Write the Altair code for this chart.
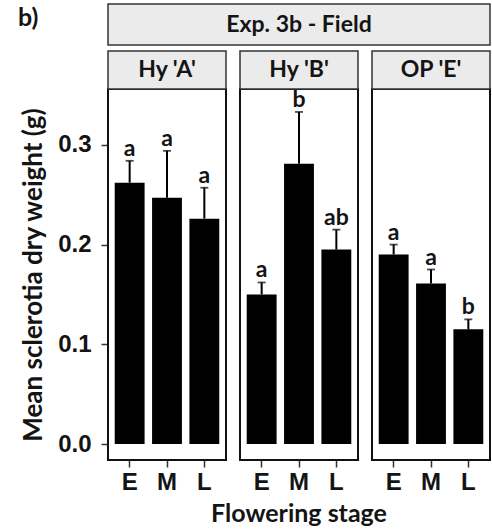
import altair as alt
import pandas as pd

# ---- data ----
cultivars = ["Hy 'A'", "Hy 'B'", "OP 'E'"]
stages = ["E", "M", "L"]
cultivar_col = ["Hy 'A'"] * 3 + ["Hy 'B'"] * 3 + ["OP 'E'"] * 3
stage_col = ["E", "M", "L"] * 3
mean_weight = [0.262, 0.247, 0.226, 0.150, 0.281, 0.195, 0.190, 0.161, 0.115]
upper_error = [0.284, 0.294, 0.257, 0.162, 0.333, 0.215, 0.200, 0.175, 0.125]
letters = ["a", "a", "a", "a", "b", "ab", "a", "a", "b"]
y_ticks = [0.0, 0.1, 0.2, 0.3]

df = pd.DataFrame({
    "cultivar": cultivar_col,
    "stage": stage_col,
    "mean": mean_weight,
    "upper": upper_error,
    "letter": letters,
})

PW = 118      # panel width
PH = 371      # panel height
SP = 14       # spacing between panels
TOTAL_W = 3 * PW + 2 * SP

LABEL_FONT = "Liberation Sans"
TEXT_FONT = "Lato"
INK = "#141414"

x_enc = alt.X(
    "stage:N",
    sort=stages,
    scale=alt.Scale(paddingInner=0.2, paddingOuter=0.18),
    axis=alt.Axis(
        title=None,
        labelAngle=0,
        labelFont=LABEL_FONT,
        labelFontSize=24,
        labelFontWeight="bold",
        labelColor=INK,
        labelPadding=3,
        tickSize=7,
        tickWidth=1.5,
        tickColor="#333333",
        domain=False,
    ),
)

y_scale = alt.Scale(domain=[-0.016, 0.356], nice=False, zero=False)
y_enc = alt.Y(
    "mean:Q",
    scale=y_scale,
    axis=alt.Axis(
        title="Mean sclerotia dry weight (g)",
        values=y_ticks,
        format=".1f",
        grid=False,
        domain=False,
        labelFont=LABEL_FONT,
        labelFontSize=24,
        labelFontWeight="bold",
        labelColor=INK,
        labelPadding=10,
        tickSize=7,
        tickWidth=1.5,
        tickColor="#333333",
        titleFont=TEXT_FONT,
        titleFontSize=26,
        titleFontWeight="bold",
        titleColor=INK,
        titlePadding=11,
    ),
)

base = alt.Chart()

bars = base.mark_bar(color="black").encode(x=x_enc, y=y_enc)

err = base.mark_rule(color="black", strokeWidth=2).encode(
    x=alt.X("stage:N", sort=stages),
    y=alt.Y("mean:Q", scale=y_scale),
    y2="upper:Q",
)

caps = base.mark_tick(color="black", size=8, thickness=1.8, orient="horizontal").encode(
    x=alt.X("stage:N", sort=stages),
    y=alt.Y("upper:Q", scale=y_scale),
)

lett = base.mark_text(
    font=TEXT_FONT, fontSize=23, fontWeight="bold", color=INK,
    baseline="alphabetic", dy=-5,
).encode(
    x=alt.X("stage:N", sort=stages),
    y=alt.Y("upper:Q", scale=y_scale),
    text="letter:N",
)

first_e = (alt.datum.stage == "E") & (alt.datum.cultivar == cultivars[0])

# panel strips
strip_rect = base.mark_rect(fill="#ebebeb", stroke="#333333", strokeWidth=1.5).encode(
    x=alt.value(0), x2=alt.value(PW), y=alt.value(-38), y2=alt.value(0),
).transform_filter(alt.datum.stage == "E")

strip_text = base.mark_text(
    font=TEXT_FONT, fontSize=23, fontWeight="bold", color=INK, baseline="middle",
).encode(
    x=alt.value(PW / 2), y=alt.value(-19), text="cultivar:N",
).transform_filter(alt.datum.stage == "E")

# top strip across all panels (drawn from the first panel)
top_rect = base.mark_rect(fill="#ebebeb", stroke="#333333", strokeWidth=1.5).encode(
    x=alt.value(0), x2=alt.value(TOTAL_W), y=alt.value(-85), y2=alt.value(-44),
).transform_filter(first_e)

top_text = base.mark_text(
    text="Exp. 3b - Field", font=TEXT_FONT, fontSize=23, fontWeight="bold",
    color=INK, baseline="middle",
).encode(
    x=alt.value(TOTAL_W / 2), y=alt.value(-64.5),
).transform_filter(first_e)

panel_tag = base.mark_text(
    text="b)", font=TEXT_FONT, fontSize=25, fontWeight="bold", color=INK,
    align="left", baseline="middle",
).encode(
    x=alt.value(-90), y=alt.value(-71),
).transform_filter(first_e)

x_title = base.mark_text(
    text="Flowering stage", font=TEXT_FONT, fontSize=25, fontWeight="bold",
    color=INK, baseline="middle",
).encode(
    x=alt.value(TOTAL_W / 2), y=alt.value(PH + 54),
).transform_filter(first_e)

layered = alt.layer(
    bars, err, caps, lett, strip_rect, strip_text, top_rect, top_text, panel_tag, x_title,
).properties(width=PW, height=PH)

chart = layered.facet(
    data=df,
    column=alt.Column("cultivar:N", sort=cultivars,
                      header=alt.Header(title=None, labels=False, labelPadding=0, titlePadding=0)),
    spacing=SP,
    bounds="flush",
).properties(
    padding={"left": 17, "top": 2, "right": 0, "bottom": 0},
    background="white",
).configure_view(
    stroke="#111111", strokeWidth=2,
)

chart.save("out.html", embed_options={"renderer": "svg", "actions": False})
